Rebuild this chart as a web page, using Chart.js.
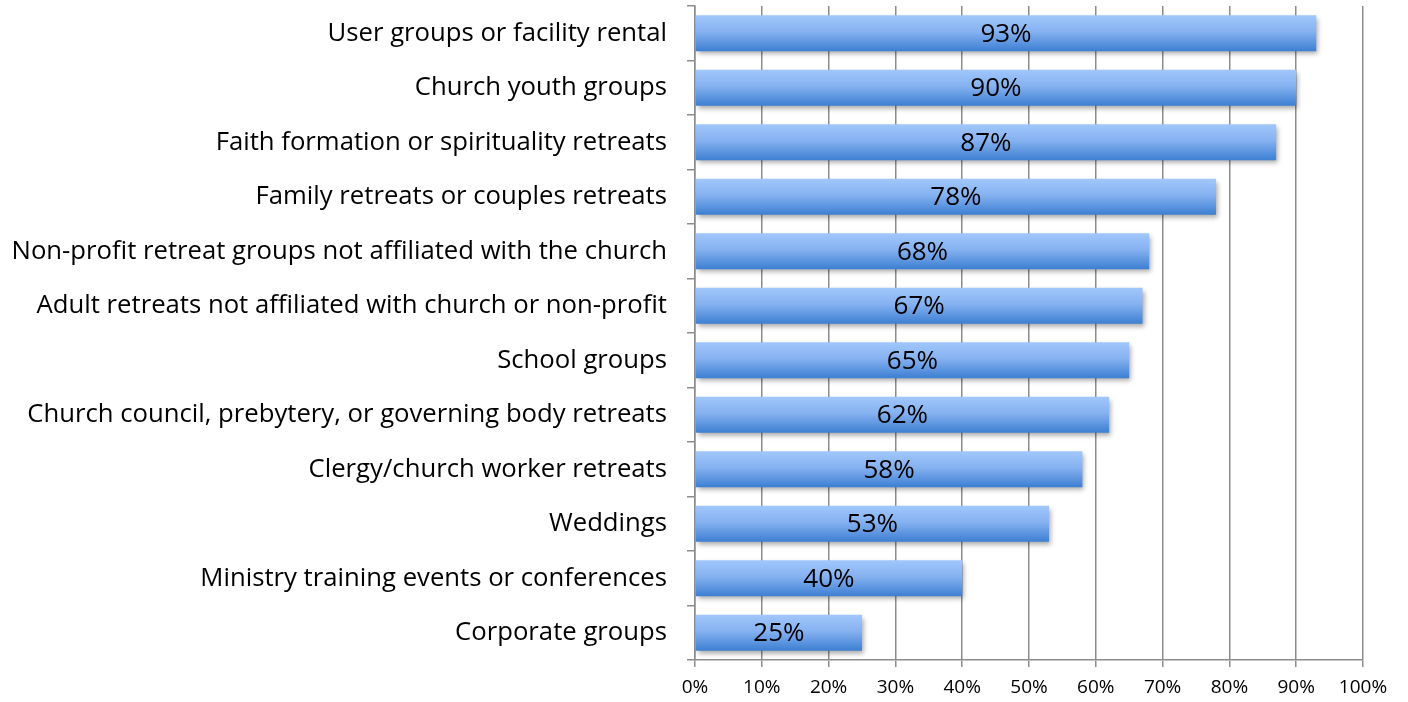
<!DOCTYPE html>
<html><head><meta charset="utf-8">
<script src="https://cdn.jsdelivr.net/npm/chart.js@4"></script>
<style>html,body{margin:0;padding:0;background:#fff}#wrap{width:1408px;height:702px}</style>
</head><body><div id="wrap"><canvas id="c" width="1408" height="702"></canvas></div>
<script>
const categories = [
  "User groups or facility rental",
  "Church youth groups",
  "Faith formation or spirituality retreats",
  "Family retreats or couples retreats",
  "Non-profit retreat groups not affiliated with the church",
  "Adult retreats not affiliated with church or non-profit",
  "School groups",
  "Church council, prebytery, or governing body retreats",
  "Clergy/church worker retreats",
  "Weddings",
  "Ministry training events or conferences",
  "Corporate groups"
];
const values = [93, 90, 87, 78, 68, 67, 65, 62, 58, 53, 40, 25];
const xTicks = [0,10,20,30,40,50,60,70,80,90,100];

const FONT = "'Open Sans'";

const shadowPlugin = {
  id: 'shadow',
  beforeDatasetsDraw(chart){ const c=chart.ctx; c.save(); c.shadowColor='rgba(0,0,0,0.35)'; c.shadowBlur=5; c.shadowOffsetX=2; c.shadowOffsetY=3; },
  afterDatasetsDraw(chart){ chart.ctx.restore(); }
};
const labelPlugin = {
  id: 'vlabels',
  afterDatasetsDraw(chart){
    const c=chart.ctx; const meta=chart.getDatasetMeta(0);
    c.save(); c.fillStyle='#000'; c.font='26px '+FONT; c.textAlign='center'; c.textBaseline='middle';
    meta.data.forEach((bar,i)=>{ const x=(bar.x+bar.base)/2; c.fillText(values[i]+'%', x, bar.y+1); });
    c.restore();
  }
};

new Chart(document.getElementById('c'), {
  type: 'bar',
  data: { labels: categories, datasets: [{
    data: values,
    backgroundColor(ctx){
      const ch=ctx.chart; const ys=ch.scales && ch.scales.y;
      if(!ys || !ch.chartArea) return '#6fa3e8';
      const y=ys.getPixelForValue(ctx.dataIndex);
      const h=(ch.chartArea.bottom-ch.chartArea.top)/categories.length*0.66;
      if(!isFinite(y) || !isFinite(h)) return '#6fa3e8';
      const g=ch.ctx.createLinearGradient(0,y-h/2,0,y+h/2);
      g.addColorStop(0,'#a1c7fb'); g.addColorStop(0.45,'#86b2f1'); g.addColorStop(1,'#3d7fd2');
      return g;
    },
    borderWidth: 0,
    barPercentage: 0.66, categoryPercentage: 1
  }]},
  options: {
    indexAxis: 'y', responsive: false, animation: false,
    layout: { padding: { left: 0, right: 45, top: 6, bottom: 0 } },
    plugins: { legend: { display: false }, tooltip: { enabled: false } },
    scales: {
      x: {
        min: 0, max: 100,
        afterBuildTicks(s){ s.ticks = xTicks.map(v=>({value:v})); },
        afterFit(s){ s.height = 42; s.paddingLeft = 0; s.paddingRight = 0; },
        ticks: { callback: v => v + '%', color: '#000', font: { family: "Open Sans", size: 19 }, padding: 9, maxRotation: 0 },
        grid: { color: '#8c8c8c', lineWidth: 1.5, tickLength: 7 },
        border: { color: '#8c8c8c', width: 1.5 }
      },
      y: {
        afterFit(s){ s.width = 695; s.paddingTop = 0; s.paddingBottom = 0; },
        ticks: { color: '#000', font: { family: "Open Sans", size: 25.7 }, padding: 20, autoSkip: false },
        grid: { drawOnChartArea: false, color: '#8c8c8c', lineWidth: 1.5, tickLength: 8 },
        border: { color: '#8c8c8c', width: 1.5 }
      }
    }
  },
  plugins: [shadowPlugin, labelPlugin]
});
</script></body></html>
